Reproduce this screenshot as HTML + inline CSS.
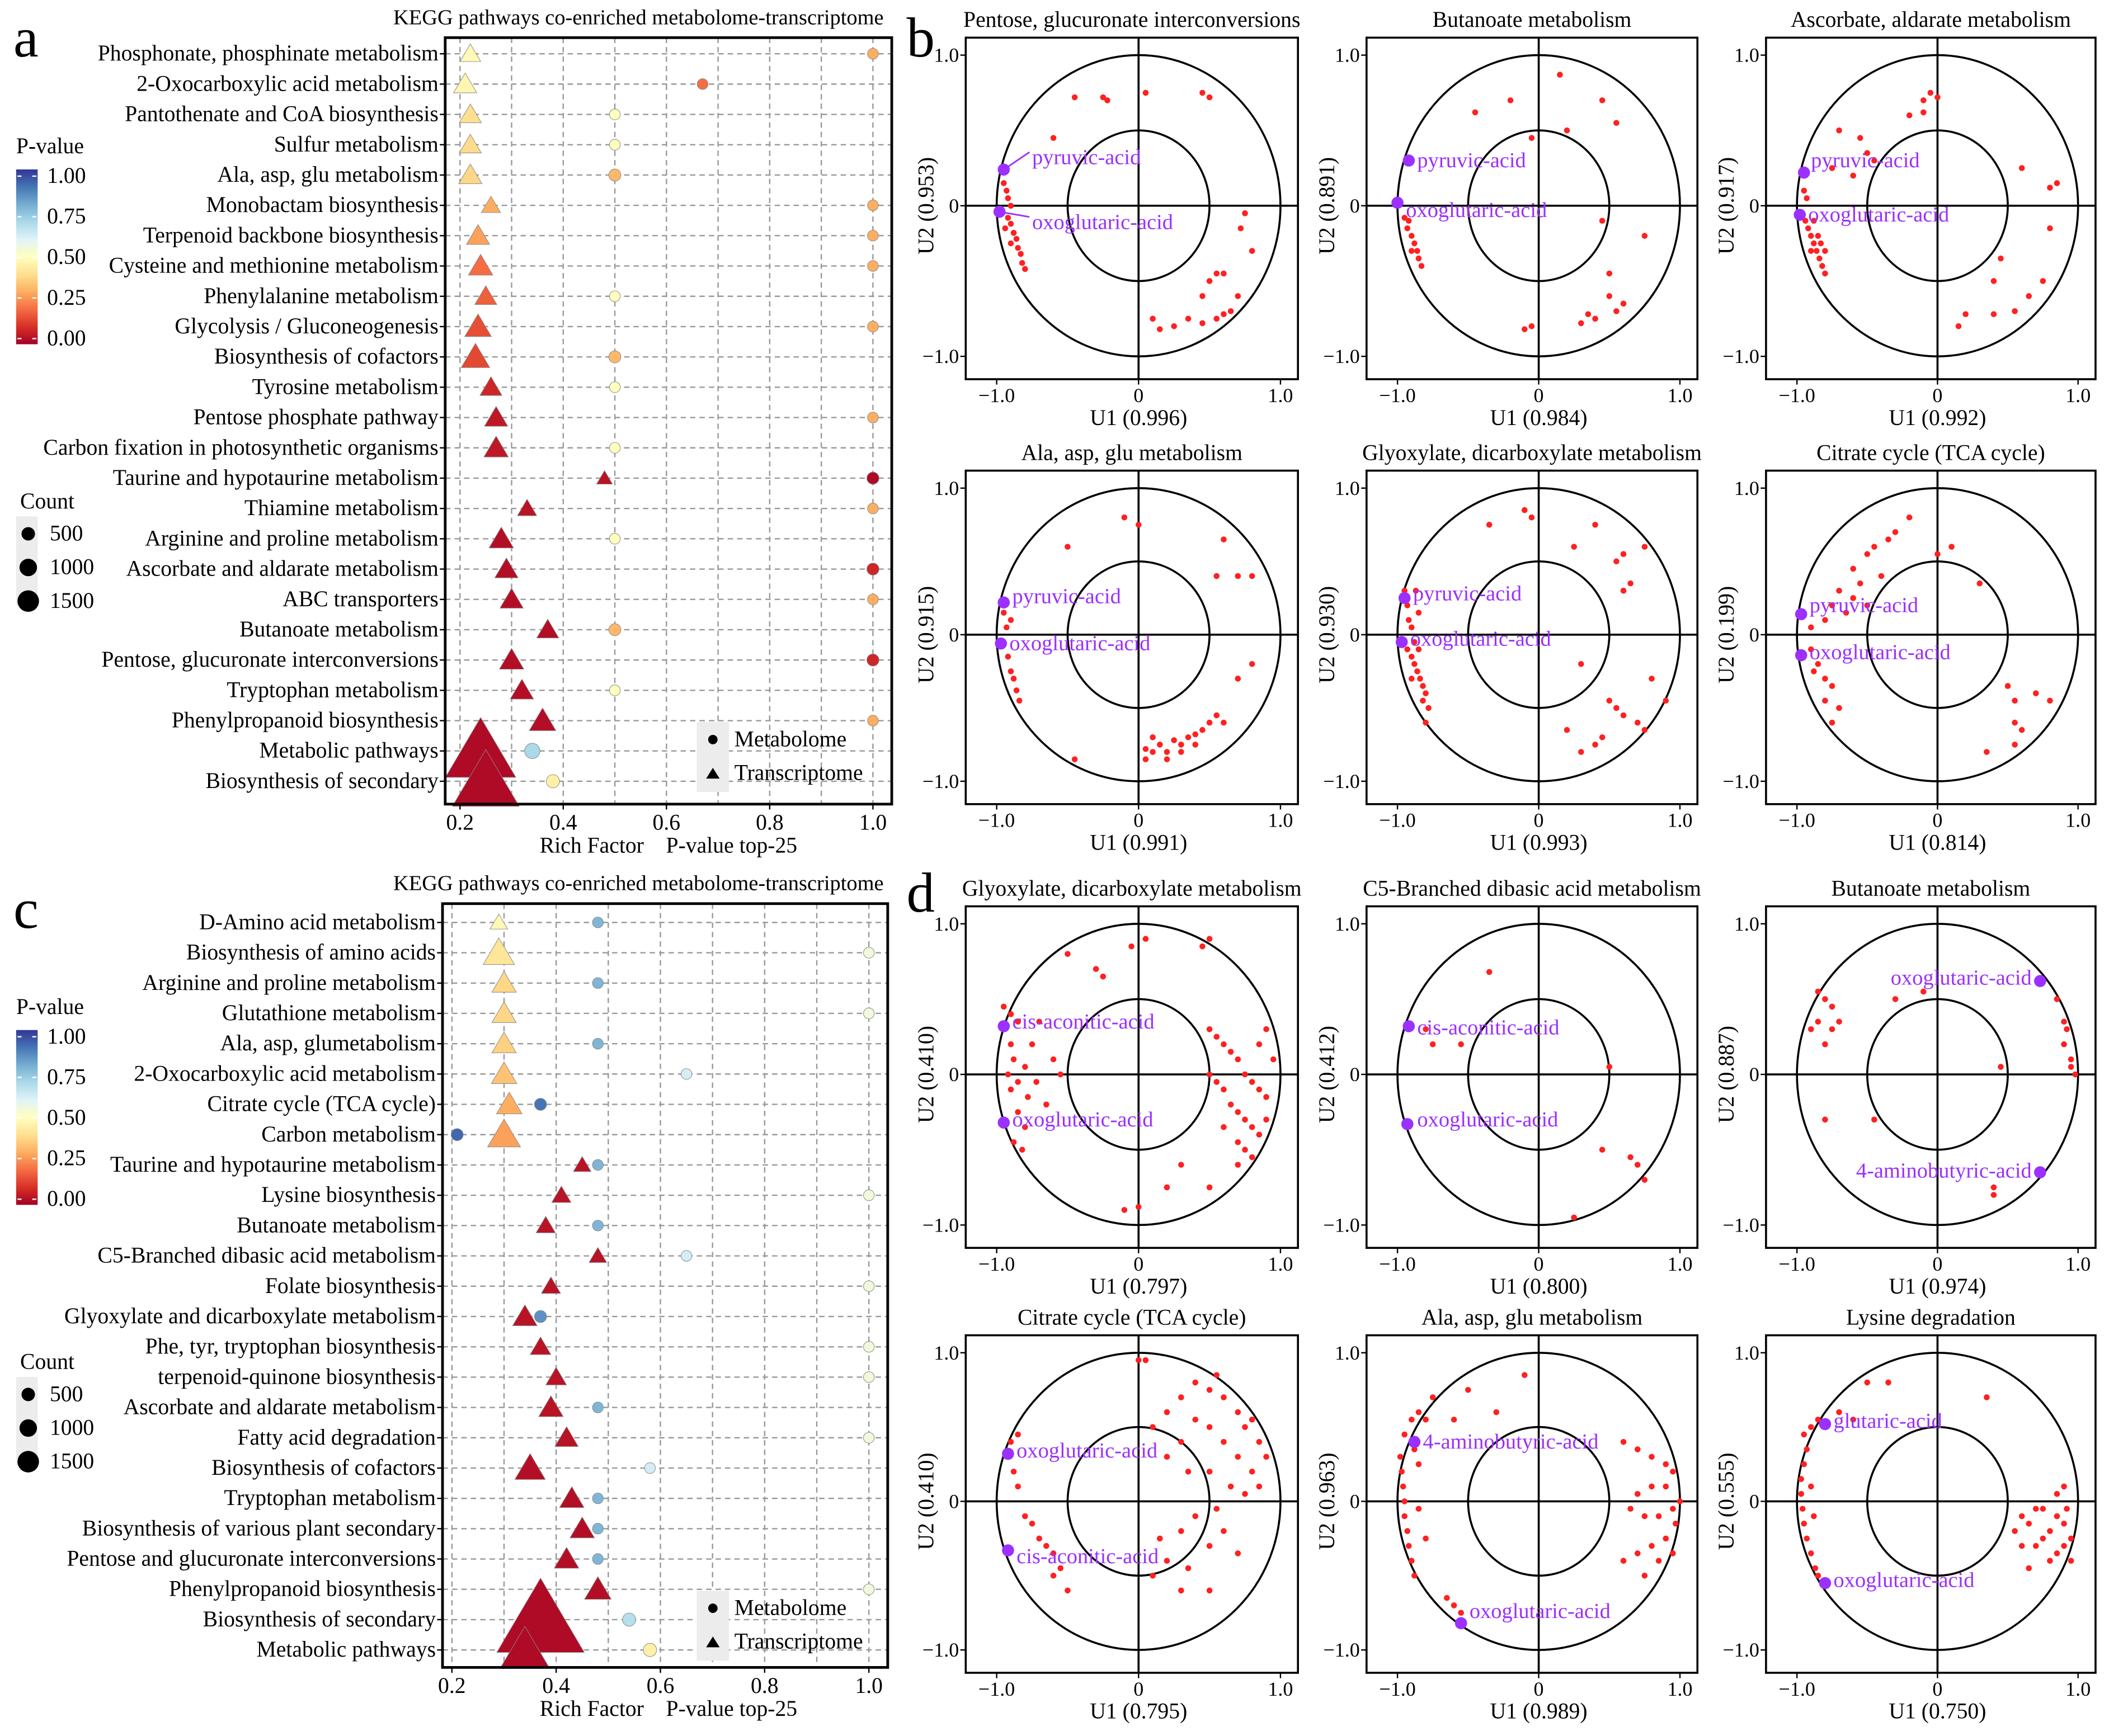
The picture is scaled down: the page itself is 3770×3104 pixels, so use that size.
<!DOCTYPE html>
<html><head><meta charset="utf-8"><style>
html,body{margin:0;padding:0;background:#fff}
svg{display:block}
text{font-family:"Liberation Serif",serif;fill:#000}
</style></head><body>
<svg id="fig" xmlns="http://www.w3.org/2000/svg" width="3770" height="3104" viewBox="0 0 1568 1291" preserveAspectRatio="none"></svg>
<script>
// ---------- Panel a data ----------
const aLabels=["Phosphonate, phosphinate metabolism","2-Oxocarboxylic acid metabolism","Pantothenate and CoA biosynthesis","Sulfur metabolism","Ala, asp, glu metabolism","Monobactam biosynthesis","Terpenoid backbone biosynthesis","Cysteine and methionine metabolism","Phenylalanine metabolism","Glycolysis / Gluconeogenesis","Biosynthesis of cofactors","Tyrosine metabolism","Pentose phosphate pathway","Carbon fixation in photosynthetic organisms","Taurine and hypotaurine metabolism","Thiamine metabolism","Arginine and proline metabolism","Ascorbate and aldarate metabolism","ABC transporters","Butanoate metabolism","Pentose, glucuronate interconversions","Tryptophan metabolism","Phenylpropanoid biosynthesis","Metabolic pathways","Biosynthesis of secondary"];
const aTriRich=[0.22,0.21,0.22,0.22,0.22,0.26,0.235,0.24,0.25,0.235,0.23,0.26,0.27,0.27,0.48,0.33,0.28,0.29,0.30,0.37,0.30,0.32,0.36,0.24,0.25];
const aTriP=[0.48,0.47,0.40,0.39,0.38,0.30,0.28,0.2,0.18,0.15,0.14,0.08,0.05,0.05,0.04,0.04,0.03,0.03,0.03,0.03,0.03,0.03,0.03,0.02,0.02];
const aTriCount=[60,80,70,70,80,50,80,90,70,110,130,70,80,90,30,50,90,80,80,70,90,80,110,950,850];
const aCirRich=[1.0,0.67,0.5,0.5,0.5,1.0,1.0,1.0,0.5,1.0,0.5,0.5,1.0,0.5,1.0,1.0,0.5,1.0,1.0,0.5,1.0,0.5,1.0,0.34,0.38];
const aCirP=[0.3,0.2,0.5,0.5,0.32,0.3,0.3,0.3,0.5,0.3,0.32,0.5,0.3,0.5,0.02,0.3,0.5,0.08,0.3,0.32,0.08,0.5,0.3,0.7,0.45];
const aCirCount=[20,20,20,20,25,20,20,20,20,20,25,20,20,20,25,20,20,25,20,25,25,20,20,40,30];
// ---------- Panel c data ----------
const cLabels=["D-Amino acid metabolism","Biosynthesis of amino acids","Arginine and proline metabolism","Glutathione metabolism","Ala, asp, glumetabolism","2-Oxocarboxylic acid metabolism","Citrate cycle (TCA cycle)","Carbon metabolism","Taurine and hypotaurine metabolism","Lysine biosynthesis","Butanoate metabolism","C5-Branched dibasic acid metabolism","Folate biosynthesis","Glyoxylate and dicarboxylate metabolism","Phe, tyr, tryptophan biosynthesis","terpenoid-quinone biosynthesis","Ascorbate and aldarate metabolism","Fatty acid degradation","Biosynthesis of cofactors","Tryptophan metabolism","Biosynthesis of various plant secondary","Pentose and glucuronate interconversions","Phenylpropanoid biosynthesis","Biosynthesis of secondary","Metabolic pathways"];
const cTriRich=[0.29,0.29,0.30,0.30,0.30,0.30,0.31,0.30,0.45,0.41,0.38,0.48,0.39,0.34,0.37,0.40,0.39,0.42,0.35,0.43,0.45,0.42,0.48,0.37,0.34];
const cTriP=[0.48,0.42,0.38,0.38,0.37,0.34,0.3,0.28,0.04,0.04,0.04,0.04,0.04,0.04,0.04,0.04,0.04,0.04,0.03,0.03,0.03,0.03,0.03,0.02,0.02];
const cTriCount=[40,160,90,90,90,100,100,180,40,50,50,40,50,90,60,60,90,80,150,90,90,90,110,1500,450];
const cCirRich=[0.48,1.0,0.48,1.0,0.48,0.65,0.37,0.21,0.48,1.0,0.48,0.65,1.0,0.37,1.0,1.0,0.48,1.0,0.58,0.48,0.48,0.48,1.0,0.54,0.58];
const cCirP=[0.78,0.55,0.78,0.55,0.78,0.62,0.9,0.92,0.78,0.55,0.78,0.62,0.55,0.85,0.55,0.55,0.78,0.55,0.62,0.78,0.78,0.78,0.55,0.68,0.45];
const cCirCount=[20,20,20,20,20,20,25,25,20,20,20,20,20,25,20,20,20,20,20,20,20,20,20,30,30];
// ---------- Circle panels (unit coords, flat x,y lists) ----------
const b1Pts=[-0.95,0.15,-0.93,0.1,-0.92,0.05,-0.9,0.0,-0.92,-0.08,-0.9,-0.12,-0.88,-0.18,-0.86,-0.22,-0.85,-0.28,-0.83,-0.32,-0.82,-0.38,-0.8,-0.42,-0.9,-0.25,-0.94,-0.15,-0.6,0.45,-0.45,0.72,-0.25,0.72,-0.22,0.7,0.05,0.75,0.45,0.75,0.5,0.72,0.75,-0.05,0.72,-0.15,0.8,-0.3,0.6,-0.45,0.5,-0.5,0.55,-0.45,0.7,-0.6,0.65,-0.7,0.6,-0.72,0.55,-0.75,0.45,-0.78,0.35,-0.75,0.25,-0.8,0.1,-0.75,0.15,-0.82,0.45,-0.6];
const b2Pts=[-0.95,-0.08,-0.93,-0.15,-0.9,-0.2,-0.88,-0.25,-0.86,-0.3,-0.85,-0.35,-0.83,-0.4,-0.9,-0.3,-0.92,-0.1,-0.45,0.62,-0.2,0.7,0.15,0.87,0.2,0.5,0.55,0.55,0.45,0.7,-0.05,0.45,0.75,-0.2,0.45,-0.1,0.5,-0.6,0.4,-0.75,0.35,-0.72,0.55,-0.7,0.6,-0.65,0.3,-0.78,-0.05,-0.8,-0.1,-0.82,0.5,-0.45];
const b3Pts=[-0.95,0.1,-0.93,0.05,-0.94,-0.1,-0.92,-0.15,-0.9,-0.2,-0.88,-0.25,-0.86,-0.3,-0.84,-0.35,-0.82,-0.4,-0.8,-0.45,-0.9,-0.3,-0.85,-0.2,-0.88,-0.1,-0.83,-0.25,-0.8,-0.3,-0.7,0.5,-0.55,0.45,-0.5,0.35,-0.75,0.25,-0.6,0.2,-0.45,0.3,-0.1,0.7,-0.05,0.75,-0.1,0.62,0.0,0.72,-0.2,0.6,0.8,0.12,0.85,0.15,0.6,0.25,0.8,-0.15,0.75,-0.5,0.65,-0.6,0.55,-0.7,0.4,-0.72,0.2,-0.72,0.15,-0.8,0.45,-0.35,0.4,-0.5];
const b4Pts=[-0.95,0.15,-0.93,0.05,-0.92,-0.15,-0.9,-0.25,-0.88,-0.3,-0.86,-0.38,-0.84,-0.45,-0.9,0.1,-0.5,0.6,-0.1,0.8,0.0,0.75,0.6,0.65,0.55,0.4,0.7,0.4,0.8,0.4,0.1,-0.8,0.15,-0.75,0.2,-0.8,0.25,-0.72,0.3,-0.75,0.35,-0.7,0.4,-0.68,0.45,-0.65,0.5,-0.6,0.55,-0.55,0.6,-0.6,0.3,-0.8,0.2,-0.85,0.05,-0.85,0.4,-0.75,0.1,-0.7,0.05,-0.78,-0.45,-0.85,0.7,-0.3,0.8,-0.2];
const b5Pts=[-0.95,0.3,-0.93,0.2,-0.92,0.1,-0.9,0.05,-0.93,-0.1,-0.9,-0.15,-0.88,-0.2,-0.86,-0.25,-0.84,-0.3,-0.82,-0.35,-0.8,-0.4,-0.82,-0.45,-0.78,-0.5,-0.8,-0.6,-0.85,0.15,-0.88,-0.05,-0.85,-0.1,-0.9,-0.3,-0.87,0.3,-0.35,0.75,-0.1,0.85,-0.05,0.8,0.4,0.75,0.25,0.6,0.55,0.5,0.6,0.55,0.65,0.35,0.6,0.3,0.75,0.6,0.3,-0.2,0.5,-0.45,0.55,-0.5,0.6,-0.55,0.7,-0.6,0.75,-0.65,0.8,-0.3,0.4,-0.75,0.45,-0.7,0.3,-0.8,0.2,-0.65,0.9,-0.45];
const b6Pts=[-0.45,0.6,-0.5,0.55,-0.35,0.65,-0.3,0.7,-0.2,0.8,-0.6,0.45,-0.55,0.35,-0.7,0.3,-0.65,0.15,-0.8,0.1,-0.75,0.2,-0.9,0.05,-0.5,0.2,-0.6,0.25,0.1,0.6,0.0,0.55,0.3,0.35,-0.4,0.4,-0.9,-0.1,-0.85,-0.2,-0.8,-0.3,-0.75,-0.35,-0.8,-0.45,-0.7,-0.5,-0.75,-0.6,-0.88,-0.25,0.5,-0.35,0.55,-0.45,0.55,-0.6,0.6,-0.65,0.55,-0.75,0.7,-0.4,0.8,-0.45,0.35,-0.8];
const d1Pts=[-0.95,0.45,-0.9,0.4,-0.85,0.35,-0.9,0.2,-0.88,0.1,-0.92,0.0,-0.85,-0.05,-0.9,-0.1,-0.8,0.05,-0.75,0.2,-0.78,-0.15,-0.85,-0.25,-0.8,-0.35,-0.88,-0.45,-0.82,-0.5,-0.7,0.35,-0.72,-0.05,-0.6,0.1,-0.65,-0.2,-0.55,0.0,-0.3,0.7,-0.25,0.65,-0.5,0.8,0.45,0.85,0.5,0.9,-0.05,0.85,0.05,0.9,0.5,0.3,0.55,0.25,0.6,0.2,0.65,0.15,0.7,0.1,0.75,0.0,0.8,-0.05,0.85,-0.1,0.9,-0.15,0.6,-0.1,0.65,-0.2,0.7,-0.25,0.75,-0.3,0.8,-0.35,0.85,-0.4,0.7,-0.45,0.75,-0.5,0.8,-0.55,0.9,-0.3,0.95,0.1,0.55,-0.05,0.5,0.0,0.85,0.2,0.9,0.3,0.6,-0.35,0.7,-0.6,-0.1,-0.9,0.0,-0.88,0.5,-0.75,0.3,-0.6,0.2,-0.75];
const d2Pts=[-0.35,0.68,-0.55,0.2,-0.75,0.2,0.5,0.05,0.65,-0.55,0.7,-0.6,0.75,-0.7,0.45,-0.5,-0.8,0.3,0.25,-0.95];
const d3Pts=[-0.85,0.55,-0.8,0.5,-0.75,0.45,-0.85,0.35,-0.75,0.3,-0.9,0.3,-0.7,0.35,-0.8,0.2,-0.3,0.5,-0.1,0.55,-0.8,-0.3,-0.45,-0.3,0.45,0.05,0.4,-0.75,0.4,-0.8,0.85,0.5,0.9,0.35,0.92,0.3,0.95,0.1,0.98,0.0,0.95,0.05,0.9,0.2];
const d4Pts=[0.0,0.95,0.05,0.95,0.1,0.5,0.2,0.6,0.3,0.7,0.4,0.8,0.5,0.75,0.55,0.85,0.6,0.7,0.7,0.6,0.75,0.5,0.8,0.55,0.85,0.4,0.9,0.3,0.8,0.2,0.7,0.3,0.6,0.4,0.5,0.5,0.4,0.55,0.3,0.4,0.2,0.3,0.35,0.2,0.5,0.2,0.65,0.1,0.75,0.05,0.85,0.1,0.55,-0.05,0.4,-0.1,0.3,-0.2,0.15,-0.25,0.2,-0.4,0.35,-0.45,0.5,-0.3,0.6,-0.2,0.7,-0.35,0.5,-0.6,0.3,-0.6,0.1,-0.5,-0.9,0.4,-0.85,0.45,-0.88,0.2,-0.85,0.1,-0.8,-0.1,-0.75,-0.15,-0.7,-0.25,-0.65,-0.3,-0.6,-0.35,-0.55,-0.45,-0.5,-0.6,-0.6,-0.5];
const d5Pts=[-0.98,0.3,-0.97,0.2,-0.96,0.1,-0.95,0.0,-0.95,-0.1,-0.93,-0.2,-0.92,-0.3,-0.9,-0.4,-0.88,-0.5,-0.95,0.45,-0.9,0.55,-0.85,0.6,-0.8,0.55,-0.88,0.35,-0.85,0.25,-0.85,-0.05,-0.8,-0.25,-0.75,0.7,-0.5,0.75,-0.1,0.85,-0.3,0.6,-0.6,0.55,0.6,0.4,0.7,0.35,0.8,0.3,0.9,0.25,0.95,0.2,0.9,0.1,0.8,0.1,0.7,0.05,0.65,-0.05,0.75,-0.1,0.85,-0.1,0.95,-0.05,1.0,0.0,0.97,-0.15,0.9,-0.25,0.8,-0.3,0.7,-0.35,0.6,-0.4,0.85,-0.4,0.95,-0.35,0.75,-0.5,-0.55,-0.75,-0.6,-0.7,-0.65,-0.65];
const d6Pts=[-0.95,0.45,-0.93,0.35,-0.95,0.25,-0.97,0.15,-0.97,0.05,-0.96,-0.05,-0.95,-0.15,-0.93,-0.25,-0.9,-0.35,-0.87,-0.45,-0.85,-0.5,-0.9,0.5,-0.85,0.55,-0.9,0.1,-0.88,-0.1,-0.5,0.8,-0.35,0.8,0.35,0.7,-0.7,0.6,-0.6,0.55,0.55,-0.2,0.6,-0.1,0.65,-0.15,0.7,-0.05,0.75,-0.25,0.8,-0.2,0.85,-0.1,0.9,-0.15,0.95,-0.25,0.9,-0.3,0.85,-0.35,0.8,-0.4,0.75,-0.05,0.85,0.05,0.9,0.1,0.7,-0.3,0.65,-0.45,0.95,-0.4,0.6,-0.3,0.92,-0.05];

const svg=document.getElementById('fig');
const NS='http://www.w3.org/2000/svg';
function mk(tag,attrs,parent,txt){const e=document.createElementNS(NS,tag);for(const k in attrs)e.setAttribute(k,attrs[k]);if(txt!==undefined)e.textContent=txt;(parent||svg).appendChild(e);return e;}
const stops=[[0,'#a50026'],[0.1,'#d73027'],[0.2,'#f46d43'],[0.3,'#fdae61'],[0.4,'#fee090'],[0.5,'#ffffbf'],[0.6,'#e0f3f8'],[0.7,'#abd9e9'],[0.8,'#74add1'],[0.9,'#4575b4'],[1,'#313695']];
function hex(h){return [1,3,5].map(i=>parseInt(h.substr(i,2),16));}
function cmap(p){p=Math.max(0,Math.min(1,p));for(let i=0;i<stops.length-1;i++){if(p<=stops[i+1][0]){const t=(p-stops[i][0])/0.1;const a=hex(stops[i][1]),b=hex(stops[i+1][1]);return 'rgb('+a.map((v,j)=>Math.round(v+(b[j]-v)*t)).join(',')+')';}}return '#313695';}

const defs=mk('defs',{});
const lg=mk('linearGradient',{id:'pg',x1:0,y1:1,x2:0,y2:0},defs);
stops.forEach(s=>mk('stop',{offset:s[0],'stop-color':s[1]},lg));
const FS=16.5;

function bubble(cfg){
  const g=mk('g',{});
  
  
  const [x0,y0,x1,y1]=cfg.box;
  const X=v=>cfg.x02+(v-0.2)*(cfg.x10-cfg.x02)/0.8;
  const n=cfg.labels.length;
  const Y=i=>cfg.r0+i*(cfg.rN-cfg.r0)/(n-1);
  const hdr=mk('text',{x:657,y:y0-10,'text-anchor':'end','font-size':16},g,'KEGG pathways co-enriched metabolome-transcriptome');
  
  for(let v=0.2;v<=1.001;v+=0.1){const l=mk('line',{x1:X(v),x2:X(v),y1:y0,y2:y1,stroke:'#999','stroke-dasharray':'4,3','stroke-width':1},g);}
  cfg.labels.forEach((lab,i)=>{
    const l=mk('line',{x1:x0,x2:x1,y1:Y(i),y2:Y(i),stroke:'#999','stroke-dasharray':'4,3','stroke-width':1},g);
    
    const t=mk('text',{x:x0-5,y:Y(i)+5,'text-anchor':'end','font-size':FS},g,lab);
    
    mk('line',{x1:x0-4,x2:x0,y1:Y(i),y2:Y(i),stroke:'#000'},g);
  });
  cfg.labels.forEach((lab,i)=>{
    const r=Math.sqrt(cfg.cc[i])*0.9;
    const c=mk('circle',{cx:X(cfg.cr[i]),cy:Y(i),r:r,fill:cmap(cfg.cp[i]),stroke:'#888','stroke-width':0.4},g);
    
  });
  cfg.labels.forEach((lab,i)=>{
    const h=Math.sqrt(cfg.tc[i])*0.8+1.5;const x=X(cfg.tr[i]),y=Y(i);
    const p=mk('polygon',{points:`${x},${y-h*0.95} ${x-h},${y+h*0.75} ${x+h},${y+h*0.75}`,fill:cmap(cfg.tp[i]),stroke:'#888','stroke-width':0.4},g);
    
  });
  mk('rect',{x:x0,y:y0,width:x1-x0,height:y1-y0,fill:'none',stroke:'#000','stroke-width':2},g);
  [0.2,0.4,0.6,0.8,1.0].forEach(v=>{mk('line',{x1:X(v),x2:X(v),y1:y1,y2:y1+4,stroke:'#000'},g);
    const t=mk('text',{x:X(v),y:y1+19,'text-anchor':'middle','font-size':FS},g,v.toFixed(1));});
  const xl=mk('text',{x:497,y:y1+36,'text-anchor':'middle','font-size':FS},g,'Rich Factor    P-value top-25');
  
  xl.setAttribute('xml:space','preserve');xl.style.whiteSpace='pre';
  const cb=cfg.cb;
  const pt=mk('text',{x:12,y:cb-16,'font-size':FS},g,'P-value');
  const rr=mk('rect',{x:12,y:cb-4,width:16,height:130,fill:'url(#pg)'},g);
  ['1.00','0.75','0.50','0.25','0.00'].forEach((s,i)=>{const yy=cb+1+i*30.2;mk('line',{x1:13,x2:16,y1:yy,y2:yy,stroke:'#fff'},g);mk('line',{x1:24,x2:27,y1:yy,y2:yy,stroke:'#fff'},g);
    const t=mk('text',{x:35,y:yy+5,'font-size':FS},g,s);});
  const ct=cfg.ct;
  const cT=mk('text',{x:15,y:ct,'font-size':FS},g,'Count');
  mk('rect',{x:12,y:ct+6,width:16,height:66,fill:'#ececec'},g);
  [['500',5],['1000',6.5],['1500',8]].forEach((d,i)=>{const yy=ct+19+i*25;mk('circle',{cx:21,cy:yy,r:d[1],fill:'#000'},g);
    const t=mk('text',{x:37,y:yy+5,'font-size':FS},g,d[0]);});
  const lx=cfg.leg[0],ly=cfg.leg[1];
  mk('rect',{x:lx,y:ly,width:24,height:52,fill:'#ececec'},g);
  mk('circle',{cx:lx+12,cy:ly+13,r:3.5,fill:'#000'},g);
  mk('polygon',{points:`${lx+12},${ly+34} ${lx+7},${ly+42} ${lx+17},${ly+42}`,fill:'#000'},g);
  const m1=mk('text',{x:lx+28,y:ly+18,'font-size':FS},g,'Metabolome');
  const m2=mk('text',{x:lx+28,y:ly+43,'font-size':FS},g,'Transcriptome');
}
bubble({name:'panel-a-bubble-chart',box:[331,28,663,598],x02:342,x10:649,r0:40,rN:581,labels:aLabels,tr:aTriRich,tp:aTriP,tc:aTriCount,cr:aCirRich,cp:aCirP,cc:aCirCount,cb:130,ct:378,leg:[518,537]});
bubble({name:'panel-c-bubble-chart',box:[329,672,660,1240],x02:336,x10:646,r0:686,rN:1227,labels:cLabels,tr:cTriRich,tp:cTriP,tc:cTriCount,cr:cCirRich,cp:cCirP,cc:cCirCount,cb:770,ct:1018,leg:[518,1183]});

function circ(cfg){
  const g=mk('g',{});
  
  
  const [x0,y0,x1,y1]=cfg.box;
  const xa=x0+23,xb=x1-13,ya=y0+13,yb=y1-17;
  const X=v=>(xa+xb)/2+v*(xb-xa)/2, Y=v=>(ya+yb)/2-v*(yb-ya)/2;
  const t=mk('text',{x:(x0+x1)/2,y:y0-8,'text-anchor':'middle','font-size':FS},g,cfg.title);
  mk('rect',{x:x0,y:y0,width:x1-x0,height:y1-y0,fill:'none',stroke:'#000','stroke-width':1.5},g);
  mk('ellipse',{cx:X(0),cy:Y(0),rx:(xb-xa)/2,ry:(yb-ya)/2,fill:'none',stroke:'#000','stroke-width':1.5},g);
  mk('ellipse',{cx:X(0),cy:Y(0),rx:(xb-xa)/4,ry:(yb-ya)/4,fill:'none',stroke:'#000','stroke-width':1.5},g);
  mk('line',{x1:x0,x2:x1,y1:Y(0),y2:Y(0),stroke:'#000','stroke-width':1.5},g);
  mk('line',{x1:X(0),x2:X(0),y1:y0,y2:y1,stroke:'#000','stroke-width':1.5},g);
  [[-1,'\u22121.0'],[0,'0'],[1,'1.0']].forEach(d=>{
    mk('line',{x1:X(d[0]),x2:X(d[0]),y1:y1,y2:y1+4,stroke:'#000'},g);
    const a=mk('text',{x:X(d[0]),y:y1+17,'text-anchor':'middle','font-size':15},g,d[1]);
    mk('line',{x1:x0-4,x2:x0,y1:Y(d[0]),y2:Y(d[0]),stroke:'#000'},g);
    const b=mk('text',{x:x0-5,y:Y(d[0])+5,'text-anchor':'end','font-size':15},g,d[1]);
  });
  const xl=mk('text',{x:X(0),y:y1+34,'text-anchor':'middle','font-size':FS},g,cfg.xl);
  const yx=x0-24,yy=Y(0);
  const yl=mk('text',{x:yx,y:yy,'text-anchor':'middle','font-size':FS,transform:`rotate(-90 ${yx} ${yy})`},g,cfg.yl);
  const p=cfg.pts;
  for(let i=0;i<p.length;i+=2){const c=mk('circle',{cx:X(p[i]),cy:Y(p[i+1]),r:2.2,fill:'#ff2020'},g);}
  cfg.hl.forEach(h=>{
    if(h.line)mk('line',{x1:X(h.px),y1:Y(h.py),x2:X(h.tx)-2,y2:Y(h.ty)-4,stroke:'#9b30ff','stroke-width':1.2},g);
    const c=mk('circle',{cx:X(h.px),cy:Y(h.py),r:4.5,fill:'#9b30ff'},g);
    const t=mk('text',{x:X(h.tx),y:Y(h.ty)+5,'text-anchor':h.anchor||'start','font-size':16,fill:'#9b30ff'},g,h.name);
    t.style.fill='#9b30ff';
  });
}
const C1=[718,965],C2=[1016,1262],C3=[1313,1558];
const R1=[28,282],R2=[350,598],R3=[674,928],R4=[993,1244];
const B=(c,r)=>[c[0],r[0],c[1],r[1]];
circ({name:'panel-b-pentose',box:B(C1,R1),title:'Pentose, glucuronate interconversions',xl:'U1 (0.996)',yl:'U2 (0.953)',pts:b1Pts,hl:[{name:'pyruvic-acid',px:-0.95,py:0.24,tx:-0.75,ty:0.32,line:true},{name:'oxoglutaric-acid',px:-0.98,py:-0.04,tx:-0.75,ty:-0.11,line:true}]});
circ({name:'panel-b-butanoate',box:B(C2,R1),title:'Butanoate metabolism',xl:'U1 (0.984)',yl:'U2 (0.891)',pts:b2Pts,hl:[{name:'pyruvic-acid',px:-0.92,py:0.3,tx:-0.86,ty:0.3},{name:'oxoglutaric-acid',px:-1.0,py:0.02,tx:-0.94,ty:-0.03}]});
circ({name:'panel-b-ascorbate',box:B(C3,R1),title:'Ascorbate, aldarate metabolism',xl:'U1 (0.992)',yl:'U2 (0.917)',pts:b3Pts,hl:[{name:'pyruvic-acid',px:-0.95,py:0.22,tx:-0.9,ty:0.3},{name:'oxoglutaric-acid',px:-0.98,py:-0.06,tx:-0.92,ty:-0.06}]});
circ({name:'panel-b-ala-asp-glu',box:B(C1,R2),title:'Ala, asp, glu metabolism',xl:'U1 (0.991)',yl:'U2 (0.915)',pts:b4Pts,hl:[{name:'pyruvic-acid',px:-0.95,py:0.22,tx:-0.89,ty:0.26},{name:'oxoglutaric-acid',px:-0.97,py:-0.06,tx:-0.91,ty:-0.06}]});
circ({name:'panel-b-glyoxylate',box:B(C2,R2),title:'Glyoxylate, dicarboxylate metabolism',xl:'U1 (0.993)',yl:'U2 (0.930)',pts:b5Pts,hl:[{name:'pyruvic-acid',px:-0.95,py:0.25,tx:-0.89,ty:0.28},{name:'oxoglutaric-acid',px:-0.97,py:-0.05,tx:-0.91,ty:-0.03}]});
circ({name:'panel-b-citrate',box:B(C3,R2),title:'Citrate cycle (TCA cycle)',xl:'U1 (0.814)',yl:'U2 (0.199)',pts:b6Pts,hl:[{name:'pyruvic-acid',px:-0.97,py:0.14,tx:-0.91,ty:0.2},{name:'oxoglutaric-acid',px:-0.97,py:-0.14,tx:-0.91,ty:-0.12}]});
circ({name:'panel-d-glyoxylate',box:B(C1,R3),title:'Glyoxylate, dicarboxylate metabolism',xl:'U1 (0.797)',yl:'U2 (0.410)',pts:d1Pts,hl:[{name:'cis-aconitic-acid',px:-0.95,py:0.32,tx:-0.89,ty:0.35},{name:'oxoglutaric-acid',px:-0.95,py:-0.32,tx:-0.89,ty:-0.3}]});
circ({name:'panel-d-c5-branched',box:B(C2,R3),title:'C5-Branched dibasic acid metabolism',xl:'U1 (0.800)',yl:'U2 (0.412)',pts:d2Pts,hl:[{name:'cis-aconitic-acid',px:-0.92,py:0.32,tx:-0.86,ty:0.31},{name:'oxoglutaric-acid',px:-0.93,py:-0.33,tx:-0.86,ty:-0.3}]});
circ({name:'panel-d-butanoate',box:B(C3,R3),title:'Butanoate metabolism',xl:'U1 (0.974)',yl:'U2 (0.887)',pts:d3Pts,hl:[{name:'oxoglutaric-acid',px:0.73,py:0.62,tx:0.67,ty:0.64,anchor:'end'},{name:'4-aminobutyric-acid',px:0.73,py:-0.65,tx:0.67,ty:-0.64,anchor:'end'}]});
circ({name:'panel-d-citrate',box:B(C1,R4),title:'Citrate cycle (TCA cycle)',xl:'U1 (0.795)',yl:'U2 (0.410)',pts:d4Pts,hl:[{name:'oxoglutaric-acid',px:-0.92,py:0.32,tx:-0.86,ty:0.34},{name:'cis-aconitic-acid',px:-0.92,py:-0.33,tx:-0.86,ty:-0.37}]});
circ({name:'panel-d-ala-asp-glu',box:B(C2,R4),title:'Ala, asp, glu metabolism',xl:'U1 (0.989)',yl:'U2 (0.963)',pts:d5Pts,hl:[{name:'4-aminobutyric-acid',px:-0.88,py:0.4,tx:-0.82,ty:0.4},{name:'oxoglutaric-acid',px:-0.55,py:-0.82,tx:-0.49,ty:-0.74}]});
circ({name:'panel-d-lysine',box:B(C3,R4),title:'Lysine degradation',xl:'U1 (0.750)',yl:'U2 (0.555)',pts:d6Pts,hl:[{name:'glutaric-acid',px:-0.8,py:0.52,tx:-0.74,ty:0.54},{name:'oxoglutaric-acid',px:-0.8,py:-0.55,tx:-0.74,ty:-0.53}]});

[['a',10,42],['b',674,42],['c',10,690],['d',674,678]].forEach(d=>{const t=mk('text',{x:d[1],y:d[2],'font-size':42},svg,d[0]);});
</script>
</body></html>
